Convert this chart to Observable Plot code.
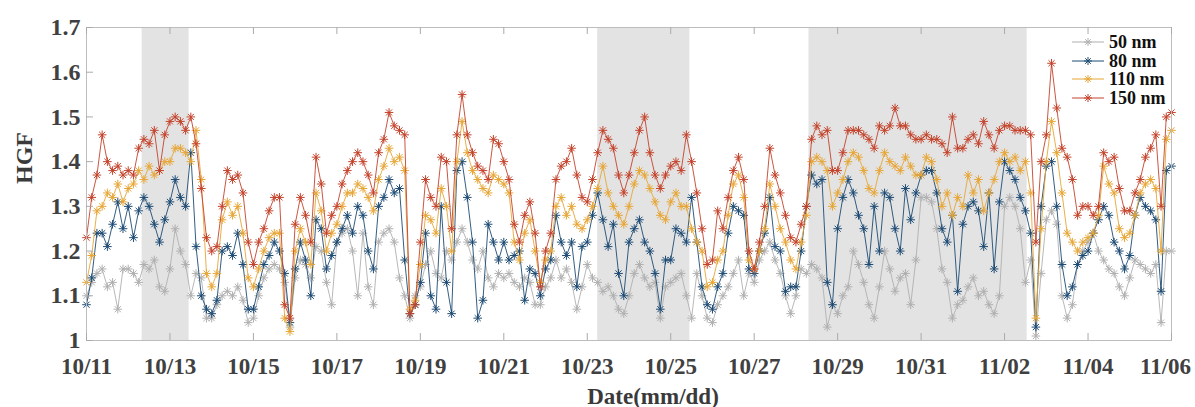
<!DOCTYPE html>
<html><head><meta charset="utf-8">
<script src="https://cdn.jsdelivr.net/npm/d3@7"></script>
<script src="https://cdn.jsdelivr.net/npm/@observablehq/plot@0.6"></script>
<style>
body{margin:0;background:#fff;}
#wrap{position:relative;width:1195px;height:407px;}
#legend{position:absolute;left:1071px;top:33px;font:bold 18px "Liberation Serif",serif;color:#111;}
.item{display:flex;align-items:center;height:18.5px;line-height:18px;}
.item svg{margin-right:4px;}
</style></head><body><div id="wrap"></div>
<script>
// ---- data (3-hourly, starting 10/11 00:00) ----
const seriesNames = ["50 nm", "80 nm", "110 nm", "150 nm"];
const seriesColors = ["#b0b0b0", "#1d4b74", "#e7a636", "#c4432b"];
const startDate = "2020-10-11";
const stepHours = 3;

const hgf50 = [
1.10,1.13,1.15,1.16,1.12,1.13,1.07,1.16,
1.16,1.15,1.13,1.17,1.16,1.18,1.12,1.11,
1.16,1.25,1.20,1.17,1.10,1.15,1.14,1.05,
1.05,1.08,1.10,1.11,1.10,1.12,1.09,1.04,
1.05,1.10,1.14,1.16,1.17,1.16,1.13,1.03,
1.14,1.18,1.17,1.14,1.21,1.20,1.13,1.08,
1.22,1.24,1.25,1.20,1.10,1.24,1.12,1.08,
1.22,1.24,1.25,1.22,1.14,1.10,1.05,1.10,
1.12,1.17,1.20,1.15,1.14,1.20,1.18,1.22,
1.25,1.22,1.18,1.16,1.20,1.14,1.12,1.15,
1.14,1.15,1.13,1.12,1.14,1.13,1.08,1.08,
1.12,1.14,1.18,1.14,1.16,1.13,1.07,1.12,
1.17,1.14,1.13,1.11,1.12,1.10,1.07,1.06,
1.10,1.15,1.17,1.14,1.12,1.13,1.05,1.12,
1.13,1.14,1.15,1.10,1.05,1.15,1.10,1.05,
1.04,1.08,1.10,1.12,1.15,1.18,1.10,1.15,
1.13,1.18,1.20,1.22,1.18,1.15,1.10,1.06,
1.10,1.16,1.15,1.17,1.16,1.14,1.03,1.08,
1.06,1.10,1.12,1.20,1.17,1.13,1.08,1.05,
1.12,1.20,1.16,1.11,1.14,1.15,1.08,1.18,
1.32,1.32,1.31,1.25,1.16,1.13,1.05,1.08,
1.09,1.12,1.14,1.10,1.11,1.08,1.06,1.10,
1.30,1.32,1.30,1.25,1.13,1.18,1.01,1.15,
1.27,1.29,1.26,1.10,1.05,1.08,1.17,1.20,
1.22,1.24,1.20,1.18,1.16,1.15,1.12,1.10,
1.14,1.18,1.17,1.16,1.15,1.17,1.04,1.20,
1.20];

const hgf80 = [
1.08,1.14,1.24,1.24,1.21,1.26,1.31,1.25,
1.30,1.23,1.29,1.32,1.30,1.26,1.22,1.27,
1.31,1.36,1.32,1.30,1.42,1.21,1.10,1.07,
1.06,1.09,1.20,1.21,1.19,1.24,1.17,1.07,
1.07,1.12,1.17,1.19,1.22,1.20,1.15,1.04,
1.16,1.22,1.18,1.10,1.27,1.25,1.16,1.19,
1.22,1.25,1.28,1.24,1.30,1.28,1.20,1.16,
1.30,1.32,1.36,1.33,1.34,1.18,1.06,1.08,
1.13,1.24,1.10,1.07,1.30,1.13,1.06,1.38,
1.40,1.32,1.22,1.05,1.09,1.26,1.22,1.18,
1.22,1.18,1.19,1.20,1.09,1.16,1.15,1.10,
1.16,1.18,1.28,1.22,1.19,1.22,1.12,1.21,
1.22,1.28,1.33,1.27,1.21,1.26,1.15,1.10,
1.22,1.25,1.27,1.22,1.20,1.15,1.07,1.18,
1.18,1.25,1.24,1.22,1.32,1.22,1.12,1.08,
1.07,1.12,1.15,1.24,1.30,1.29,1.28,1.16,
1.15,1.20,1.24,1.32,1.21,1.20,1.11,1.12,
1.12,1.20,1.30,1.37,1.35,1.36,1.13,1.08,
1.25,1.32,1.36,1.33,1.28,1.25,1.17,1.30,
1.20,1.33,1.32,1.25,1.20,1.34,1.27,1.33,
1.37,1.38,1.38,1.33,1.25,1.22,1.28,1.11,
1.26,1.30,1.31,1.29,1.21,1.33,1.16,1.31,
1.40,1.38,1.36,1.32,1.29,1.24,1.03,1.30,
1.39,1.40,1.30,1.17,1.10,1.12,1.17,1.19,
1.20,1.24,1.27,1.30,1.28,1.22,1.20,1.16,
1.19,1.28,1.32,1.30,1.29,1.27,1.11,1.38,
1.39];

const hgf110 = [
1.13,1.19,1.29,1.30,1.33,1.32,1.35,1.31,
1.34,1.35,1.38,1.36,1.39,1.37,1.38,1.40,
1.40,1.43,1.43,1.42,1.40,1.47,1.36,1.15,
1.12,1.15,1.27,1.31,1.28,1.30,1.24,1.14,
1.12,1.16,1.20,1.23,1.24,1.24,1.05,1.02,
1.20,1.25,1.22,1.17,1.33,1.29,1.20,1.24,
1.26,1.30,1.33,1.33,1.35,1.34,1.32,1.29,
1.36,1.39,1.43,1.40,1.41,1.38,1.07,1.09,
1.17,1.28,1.27,1.24,1.34,1.30,1.20,1.40,
1.49,1.42,1.38,1.36,1.34,1.33,1.37,1.36,
1.35,1.33,1.22,1.18,1.24,1.27,1.20,1.13,
1.18,1.20,1.30,1.32,1.28,1.30,1.26,1.25,
1.27,1.30,1.34,1.39,1.33,1.30,1.28,1.26,
1.30,1.35,1.38,1.37,1.34,1.31,1.28,1.27,
1.31,1.33,1.30,1.30,1.25,1.22,1.20,1.12,
1.13,1.18,1.20,1.28,1.35,1.37,1.32,1.18,
1.16,1.20,1.25,1.35,1.30,1.25,1.22,1.18,
1.16,1.22,1.28,1.40,1.41,1.40,1.38,1.30,
1.33,1.36,1.40,1.42,1.41,1.38,1.34,1.33,
1.38,1.42,1.40,1.39,1.38,1.41,1.39,1.37,
1.37,1.41,1.40,1.36,1.30,1.33,1.28,1.32,
1.30,1.37,1.33,1.36,1.29,1.33,1.36,1.40,
1.42,1.40,1.41,1.38,1.40,1.33,1.05,1.25,
1.40,1.49,1.42,1.33,1.24,1.22,1.20,1.22,
1.23,1.24,1.28,1.39,1.35,1.33,1.25,1.23,
1.24,1.28,1.33,1.35,1.36,1.34,1.20,1.45,
1.47];

const hgf150 = [
1.23,1.32,1.37,1.46,1.40,1.38,1.39,1.37,
1.38,1.37,1.43,1.45,1.44,1.47,1.38,1.46,
1.49,1.50,1.49,1.47,1.50,1.44,1.34,1.23,
1.20,1.21,1.30,1.38,1.36,1.37,1.33,1.22,
1.17,1.22,1.25,1.29,1.32,1.32,1.08,1.05,
1.26,1.32,1.28,1.22,1.41,1.35,1.24,1.28,
1.30,1.35,1.38,1.40,1.42,1.40,1.37,1.33,
1.42,1.45,1.51,1.48,1.47,1.46,1.06,1.08,
1.22,1.36,1.32,1.30,1.41,1.40,1.25,1.46,
1.55,1.46,1.42,1.39,1.38,1.36,1.45,1.44,
1.40,1.36,1.26,1.22,1.28,1.31,1.24,1.12,
1.20,1.24,1.36,1.39,1.40,1.43,1.37,1.32,
1.31,1.36,1.42,1.47,1.45,1.43,1.37,1.33,
1.37,1.42,1.47,1.50,1.42,1.37,1.34,1.37,
1.39,1.40,1.38,1.46,1.40,1.33,1.25,1.17,
1.18,1.29,1.25,1.32,1.38,1.41,1.36,1.20,
1.16,1.22,1.30,1.43,1.37,1.33,1.28,1.23,
1.22,1.26,1.30,1.45,1.48,1.46,1.47,1.38,
1.38,1.42,1.47,1.47,1.47,1.46,1.45,1.43,
1.48,1.47,1.48,1.52,1.48,1.48,1.46,1.45,
1.45,1.46,1.45,1.45,1.44,1.42,1.50,1.43,
1.43,1.45,1.46,1.44,1.49,1.46,1.43,1.47,
1.48,1.48,1.47,1.47,1.47,1.46,1.22,1.40,
1.46,1.62,1.52,1.43,1.41,1.36,1.28,1.30,
1.30,1.28,1.30,1.42,1.40,1.41,1.34,1.29,
1.29,1.33,1.36,1.41,1.43,1.46,1.30,1.50,
1.51];

const shadeStart = ["2020-10-12T08:00Z", "2020-10-23T06:00Z", "2020-10-28T07:30Z"];
const shadeEnd   = ["2020-10-13T11:00Z", "2020-10-25T11:00Z", "2020-11-02T13:00Z"];

const xTickLabels = ["10/11","10/13","10/15","10/17","10/19","10/21","10/23","10/25","10/27","10/29","10/31","11/02","11/04","11/06"];
const yTicks = [1, 1.1, 1.2, 1.3, 1.4, 1.5, 1.6, 1.7];

// ---- build ----
const t0 = new Date(startDate + "T00:00:00Z").getTime();
const allSeries = [hgf50, hgf80, hgf110, hgf150];
const tables = allSeries.map((vals, k) => vals.map((v, i) => ({
  date: new Date(t0 + i * stepHours * 3600e3), hgf: v, size: seriesNames[k]
})));
const xTickDates = xTickLabels.map(s => {
  const [m, d] = s.split("/").map(Number);
  return new Date(Date.UTC(2020, m - 1, d));
});
const shades = shadeStart.map((s, i) => ({x1: new Date(s), x2: new Date(shadeEnd[i])}));

// 8-pointed MATLAB-like asterisk
const star8 = {
  draw(ctx, size) {
    const r = Math.sqrt(size / Math.PI);
    const q = r * Math.SQRT1_2;
    ctx.moveTo(-r, 0); ctx.lineTo(r, 0);
    ctx.moveTo(0, -r); ctx.lineTo(0, r);
    ctx.moveTo(-q, -q); ctx.lineTo(q, q);
    ctx.moveTo(-q, q); ctx.lineTo(q, -q);
  }
};

const W = 1195, H = 407, mL = 86, mR = 24, mT = 27, mB = 67;
const frameW = W - mL - mR, frameH = H - mT - mB;
const tickLen = 7;
const fmt = d3.utcFormat("%m/%d");

const marks = [
  Plot.rect(shades, {x1: "x1", x2: "x2", fill: "#e3e3e3"}),
];
tables.forEach((tbl, k) => {
  marks.push(Plot.line(tbl, {x: "date", y: "hgf", stroke: seriesColors[k], strokeWidth: 0.9}));
  marks.push(Plot.dot(tbl, {x: "date", y: "hgf", stroke: seriesColors[k], symbol: star8, r: 4.3, strokeWidth: 1}));
});
marks.push(
  Plot.frame({stroke: "#bdbdbd", strokeWidth: 1}),
  Plot.tickX(xTickDates, {x: d => d, insetTop: frameH - tickLen, stroke: "#aaa"}),
  Plot.tickX(xTickDates, {x: d => d, insetBottom: frameH - tickLen, stroke: "#aaa"}),
  Plot.tickY(yTicks, {y: d => d, insetRight: frameW - tickLen, stroke: "#aaa"}),
  Plot.axisX(xTickDates.slice(0, -1), {tickSize: 0, tickPadding: 17, tickFormat: fmt, label: null, fontSize: 23}),
  Plot.axisX(xTickDates.slice(-1), {tickSize: 0, tickPadding: 17, tickFormat: fmt, label: null, fontSize: 23, dx: -6}),
  Plot.axisY(yTicks, {tickSize: 0, tickPadding: 6, tickFormat: d => String(d), label: null}),
  Plot.text(["HGF"], {frameAnchor: "left", dx: -62, rotate: -90, fill: "#3a3a3a"}),
  Plot.text(["Date(mm/dd)"], {frameAnchor: "bottom", lineAnchor: "bottom", dy: 63, dx: 24, fontSize: 23, fill: "#3a3a3a"})
);

const chart = Plot.plot({
  width: W, height: H,
  marginLeft: mL, marginRight: mR, marginTop: mT, marginBottom: mB,
  x: {type: "utc", domain: [new Date(t0), xTickDates[xTickDates.length - 1]]},
  y: {domain: [1, 1.7]},
  style: {fontFamily: "'Liberation Serif', serif", fontSize: "24px", fontWeight: "bold", color: "#404040", background: "#fff"},
  marks
});

const wrap = document.getElementById("wrap");
wrap.appendChild(chart);

// legend (inside top-right of the frame)
const legend = document.createElement("div");
legend.id = "legend";
seriesNames.forEach((name, k) => {
  const row = document.createElement("div");
  row.className = "item";
  const c = seriesColors[k];
  row.innerHTML = `<svg width="34" height="18"><line x1="1" y1="9" x2="33" y2="9" stroke="${c}" stroke-width="1"/>` +
    `<g stroke="${c}" stroke-width="1"><line x1="13" y1="9" x2="21" y2="9"/><line x1="17" y1="5" x2="17" y2="13"/>` +
    `<line x1="14.2" y1="6.2" x2="19.8" y2="11.8"/><line x1="14.2" y1="11.8" x2="19.8" y2="6.2"/></g></svg><span>${name}</span>`;
  legend.appendChild(row);
});
wrap.appendChild(legend);
</script>
</body></html>
